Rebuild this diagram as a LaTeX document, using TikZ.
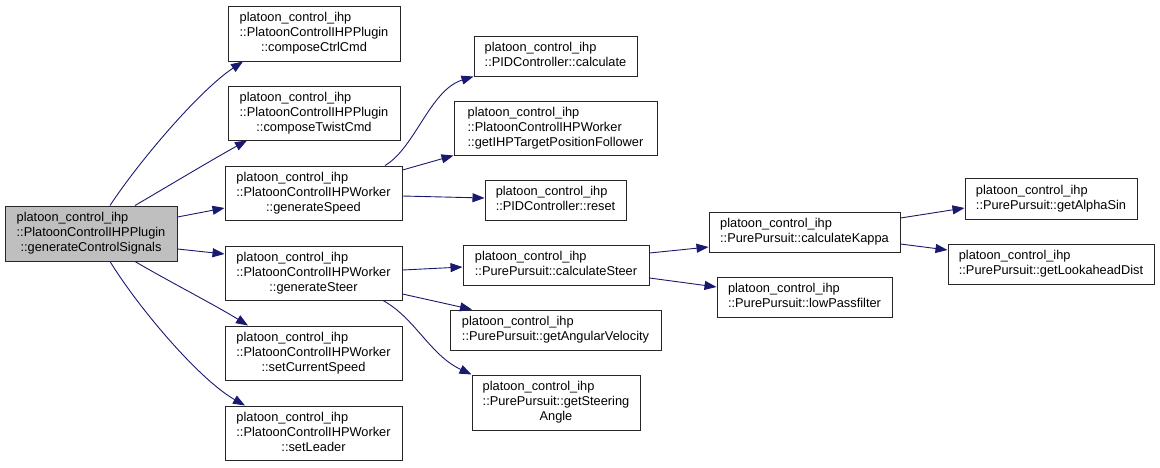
\documentclass[tikz,border=0pt]{standalone}
\usepackage{fontspec}
\setmainfont{Liberation Sans}
\usetikzlibrary{arrows.meta}
\definecolor{edgeblue}{HTML}{191970}
\definecolor{rootfill}{HTML}{BFBFBF}
\newcommand{\calltext}[2]{\begin{tabular}{@{}l@{}}#1\\\multicolumn{1}{@{}c@{}}{#2}\end{tabular}}
\begin{document}
\begin{tikzpicture}[
  x = 1pt,
  y = -1pt,
  fn/.style = {
    shape = rectangle,
    draw = black!85,
    line width = 1pt,
    inner sep = 0pt,
    font = \fontsize{12.8}{15}\selectfont,
  },
  root/.style = {
    fn,
    fill = rootfill
  },
  call/.style = {
    draw = edgeblue,
    line width = 0.9pt,
    -{Triangle[length = 12pt, width = 9pt]}
  }
]
  \useasboundingbox (0,0) rectangle (1160,467);

  \node[root, minimum width = 172pt, minimum height = 55pt] (main) at (91, 233.5)
    {\calltext{platoon\_control\_ihp\\::PlatoonControlIHPPlugin}{::generateControlSignals}};

  \node[fn, minimum width = 172pt, minimum height = 55pt] (ctrl) at (314, 33.5)
    {\calltext{platoon\_control\_ihp\\::PlatoonControlIHPPlugin}{::composeCtrlCmd}};
  \node[fn, minimum width = 172pt, minimum height = 54pt] (twist) at (314, 113)
    {\calltext{platoon\_control\_ihp\\::PlatoonControlIHPPlugin}{::composeTwistCmd}};
  \node[fn, minimum width = 177pt, minimum height = 54pt] (speed) at (313.5, 193)
    {\calltext{platoon\_control\_ihp\\::PlatoonControlIHPWorker}{::generateSpeed}};
  \node[fn, minimum width = 177pt, minimum height = 54pt] (steer) at (313.5, 273)
    {\calltext{platoon\_control\_ihp\\::PlatoonControlIHPWorker}{::generateSteer}};
  \node[fn, minimum width = 177pt, minimum height = 54pt] (curspeed) at (313.5, 353)
    {\calltext{platoon\_control\_ihp\\::PlatoonControlIHPWorker}{::setCurrentSpeed}};
  \node[fn, minimum width = 177pt, minimum height = 54pt] (leader) at (313.5, 433)
    {\calltext{platoon\_control\_ihp\\::PlatoonControlIHPWorker}{::setLeader}};

  \node[fn, minimum width = 163pt, minimum height = 40pt] (pidcalc) at (555.5, 56)
    {\calltext{platoon\_control\_ihp}{::PIDController::calculate}};
  \node[fn, minimum width = 203pt, minimum height = 54pt] (target) at (555.5, 128)
    {\calltext{platoon\_control\_ihp\\::PlatoonControlIHPWorker}{::getIHPTargetPositionFollower}};
  \node[fn, minimum width = 141pt, minimum height = 40pt] (pidreset) at (555.5, 200)
    {\calltext{platoon\_control\_ihp}{::PIDController::reset}};
  \node[fn, minimum width = 186pt, minimum height = 40pt] (calcsteer) at (556, 265)
    {\calltext{platoon\_control\_ihp}{::PurePursuit::calculateSteer}};
  \node[fn, minimum width = 211pt, minimum height = 40pt] (angvel) at (555.5, 330)
    {\calltext{platoon\_control\_ihp}{::PurePursuit::getAngularVelocity}};
  \node[fn, minimum width = 168pt, minimum height = 55pt] (steerangle) at (556, 402.5)
    {\calltext{platoon\_control\_ihp\\::PurePursuit::getSteering}{Angle}};

  \node[fn, minimum width = 191pt, minimum height = 40pt] (kappa) at (804.5, 232)
    {\calltext{platoon\_control\_ihp}{::PurePursuit::calculateKappa}};
  \node[fn, minimum width = 175pt, minimum height = 40pt] (lowpass) at (804.5, 297)
    {\calltext{platoon\_control\_ihp}{::PurePursuit::lowPassfilter}};

  \node[fn, minimum width = 172pt, minimum height = 41pt] (alphasin) at (1051, 198.5)
    {\calltext{platoon\_control\_ihp}{::PurePursuit::getAlphaSin}};
  \node[fn, minimum width = 206pt, minimum height = 40pt] (lookahead) at (1051, 264)
    {\calltext{platoon\_control\_ihp}{::PurePursuit::getLookaheadDist}};

  % calls of generateControlSignals
  \draw[call] (main.north -| 110,0) .. controls (140,160) and (200,90) .. (ctrl.south -| 243,0);
  \draw[call] (main.north -| 135,0) .. controls (170,185) and (215,158) .. (twist.south -| 247,0);
  \draw[call] (main.east |- 0,217) -- (speed.west |- 0,208);
  \draw[call] (main.east |- 0,249) -- (steer.west |- 0,254);
  \draw[call] (main.south -| 135,0) .. controls (170,282) and (215,305) .. (curspeed.north -| 248,0);
  \draw[call] (main.south -| 110,0) .. controls (140,310) and (200,380) .. (leader.north -| 245,0);

  % calls of generateSpeed and generateSteer
  \draw[call] (speed.north -| 385,0) .. controls (415,148) and (430,90) .. (pidcalc.south west);
  \draw[call] (speed.east |- 0,170) -- (target.south west);
  \draw[call] (speed.east |- 0,196) -- (pidreset.west |- 0,198);
  \draw[call] (steer.east |- 0,270) -- (calcsteer.west |- 0,267);
  \draw[call] (steer.east |- 0,294) -- (angvel.north -| 472,0);
  \draw[call] (steer.south -| 383,0) .. controls (415,318) and (430,355) .. (steerangle.north west);

  % calls of calculateSteer and calculateKappa
  \draw[call] (calcsteer.east |- 0,253) -- (kappa.west |- 0,247);
  \draw[call] (calcsteer.east |- 0,278) -- (lowpass.west |- 0,287);
  \draw[call] (kappa.east |- 0,218) -- (alphasin.west |- 0,208);
  \draw[call] (kappa.east |- 0,244) -- (lookahead.west |- 0,250);
\end{tikzpicture}
\end{document}
